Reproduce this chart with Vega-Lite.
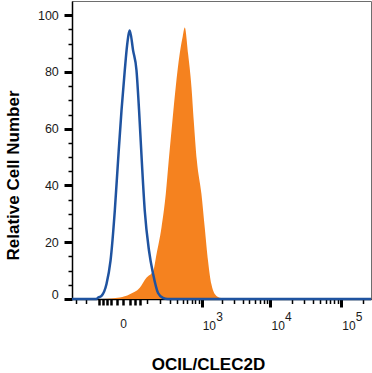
{
  "$schema": "https://vega.github.io/schema/vega-lite/v6.json",
  "width": 299,
  "height": 298,
  "autosize": {"type": "none"},
  "padding": {"left": 72, "top": 1, "right": 1, "bottom": 74},
  "background": "white",
  "config": {
    "view": {"stroke": "#6e6e6e", "strokeWidth": 1},
    "font": "Liberation Sans"
  },
  "datasets": {
    "control": [
      {"x": -360, "y": 0}, {"x": -115, "y": 0}, {"x": -108, "y": 0.4}, {"x": -86, "y": 1.1},
      {"x": -60.5, "y": 5.3}, {"x": -42.8, "y": 13.4}, {"x": -26.2, "y": 31.1}, {"x": -15, "y": 48.8},
      {"x": -4.5, "y": 66.4}, {"x": 4.8, "y": 80.6}, {"x": 11.8, "y": 89.4}, {"x": 20.6, "y": 94.6},
      {"x": 32.5, "y": 87.6}, {"x": 46.2, "y": 80.6}, {"x": 57.7, "y": 66.4}, {"x": 70.7, "y": 48.8},
      {"x": 86.6, "y": 31.1}, {"x": 112, "y": 17}, {"x": 140, "y": 8.8}, {"x": 179, "y": 2.1},
      {"x": 225, "y": 0.35}, {"x": 277, "y": 0}, {"x": 262000, "y": 0}
    ],
    "stained": [
      {"x": -360, "y": 0}, {"x": -79, "y": 0}, {"x": -9.6, "y": 0.5}, {"x": 20.6, "y": 1.7},
      {"x": 61, "y": 4.0}, {"x": 96, "y": 7.5}, {"x": 140, "y": 9.9}, {"x": 166, "y": 15.8},
      {"x": 210, "y": 25.2}, {"x": 254, "y": 37}, {"x": 288, "y": 48.8}, {"x": 336, "y": 62.9},
      {"x": 383, "y": 74.7}, {"x": 448, "y": 86.5}, {"x": 502, "y": 92.5}, {"x": 542, "y": 95.7},
      {"x": 613, "y": 86.5}, {"x": 694, "y": 74.7}, {"x": 754, "y": 62.9}, {"x": 843, "y": 48.8},
      {"x": 992, "y": 37}, {"x": 1113, "y": 25.2}, {"x": 1249, "y": 13.4}, {"x": 1403, "y": 5.2},
      {"x": 1665, "y": 1.1}, {"x": 2061, "y": 0.25}, {"x": 2608, "y": 0}, {"x": 262000, "y": 0}
    ]
  },
  "resolve": {"scale": {"x": "independent"}, "axis": {"x": "independent"}},
  "layer": [
    {
      "data": {"name": "stained"},
      "mark": {"type": "area", "color": "#F5821F", "interpolate": "monotone"},
      "encoding": {
        "x": {
          "field": "x",
          "type": "quantitative",
          "scale": {"type": "symlog", "constant": 85, "domain": [-360, 262000], "nice": false, "zero": false},
          "axis": {
            "orient": "bottom",
            "title": "OCIL/CLEC2D",
            "zindex": 0,
            "grid": false,
            "tickCount": 500,
            "values": [-300, -200, -100, -80, -60, -40, -20, 0, 20, 40, 60, 100, 200, 300, 400, 500, 600, 700, 800, 900, 1000, 2000, 3000, 4000, 5000, 6000, 7000, 8000, 9000, 10000, 20000, 30000, 40000, 50000, 60000, 70000, 80000, 90000, 100000, 200000],
            "labelExpr": "datum.value == 0 ? '0' : (datum.value == 1000 || datum.value == 10000 || datum.value == 100000) ? '10' : ''",
            "labelAlign": {"condition": {"test": "datum.value == 0", "value": "center"}, "value": "left"},
            "labelOffset": {"condition": {"test": "datum.value == 0", "value": 0}, "value": 0.5},
            "labelBaseline": "alphabetic",
            "labelFontSize": 12,
            "labelColor": "#1a1a1a",
            "labelOverlap": false,
            "labelBound": false,
            "labelFlush": false,
            "labelPadding": 22,
            "tickColor": "black",
            "tickWidth": {"condition": [
              {"test": "datum.value == 1000 || datum.value == 10000 || datum.value == 100000", "value": 3},
              {"test": "datum.value >= -100 && datum.value <= 60", "value": 2.5}
            ], "value": 1.5},
            "tickSize": {"condition": [
              {"test": "datum.value == 1000 || datum.value == 10000 || datum.value == 100000", "value": 8},
              {"test": "datum.value >= -100 && datum.value <= 60", "value": 6}
            ], "value": 4.5},
            "domainColor": "black",
            "domainWidth": 1.5,
            "titleFontSize": 17,
            "titleFontWeight": "bold",
            "titleColor": "black",
            "titleX": 136,
            "titleY": 70,
            "titleBaseline": "alphabetic",
            "titleAlign": "center"
          }
        },
        "y": {
          "field": "y",
          "type": "quantitative",
          "scale": {"domain": [0, 105], "nice": false},
          "axis": {
            "title": "Relative Cell Number",
            "zindex": 0,
            "grid": false,
            "tickCount": 500,
            "format": "d",
            "values": [0, 5, 10, 15, 20, 25, 30, 35, 40, 45, 50, 55, 60, 65, 70, 75, 80, 85, 90, 95, 100],
            "labelExpr": "datum.value % 20 == 0 ? datum.label : ''",
            "labelFontSize": 12.5,
            "labelColor": "#1a1a1a",
            "labelOverlap": false,
            "labelBound": false,
            "labelFlush": false,
            "labelPadding": 5.7,
            "labelOffset": {"condition": {"test": "datum.value == 0", "value": -5}, "value": 0},
            "tickColor": "black",
            "tickWidth": {"condition": {"test": "datum.value % 20 == 0", "value": 3}, "value": 1.5},
            "tickSize": {"condition": {"test": "datum.value % 20 == 0", "value": 8}, "value": 4},
            "domainColor": "black",
            "domainWidth": 1.5,
            "titleFontSize": 17,
            "titleFontWeight": "bold",
            "titleColor": "black",
            "titleX": -53.5,
            "titleY": 174,
            "titleBaseline": "alphabetic",
            "titleAlign": "center"
          }
        }
      }
    },
    {
      "data": {"name": "control"},
      "mark": {"type": "line", "color": "#1F53A0", "strokeWidth": 2.5, "interpolate": "monotone"},
      "encoding": {
        "x": {
          "field": "x",
          "type": "quantitative",
          "scale": {"type": "symlog", "constant": 85, "domain": [-360, 262000], "nice": false, "zero": false},
          "axis": {
            "orient": "bottom",
            "title": null,
            "zindex": 0,
            "grid": false,
            "domain": false,
            "ticks": false,
            "tickSize": 0,
            "tickCount": 500,
            "values": [1000, 10000, 100000],
            "labelExpr": "datum.value == 1000 ? '3' : datum.value == 10000 ? '4' : '5'",
            "labelAlign": "left",
            "labelOffset": 14,
            "labelBaseline": "alphabetic",
            "labelFontSize": 12,
            "labelColor": "#1a1a1a",
            "labelOverlap": false,
            "labelBound": false,
            "labelFlush": false,
            "labelPadding": 21
          }
        },
        "y": {"field": "y", "type": "quantitative"}
      }
    }
  ]
}
